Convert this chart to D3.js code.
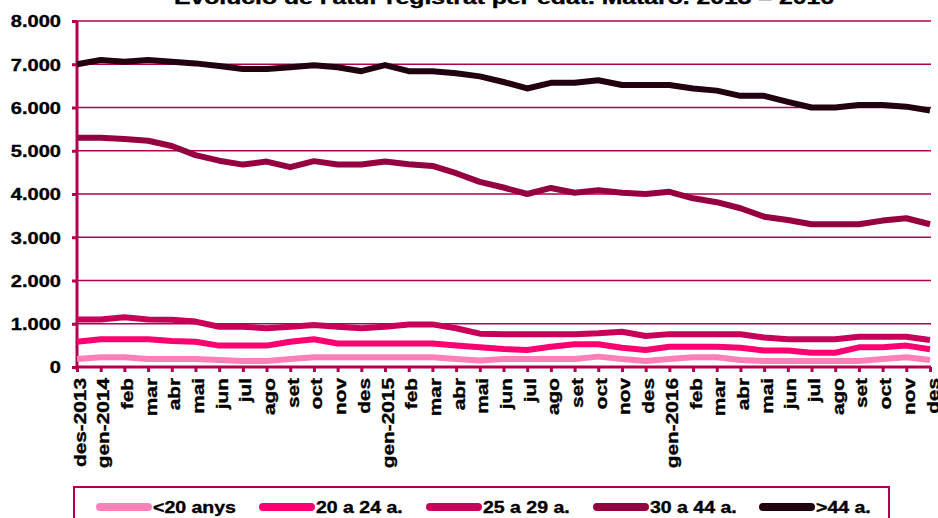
<!DOCTYPE html>
<html><head><meta charset="utf-8">
<script src="https://cdn.jsdelivr.net/npm/d3@7"></script>
<style>body{margin:0;background:#fff}svg{display:block}text{font-family:"Liberation Sans",Arial,sans-serif;font-weight:bold;fill:#000;stroke:#000;stroke-width:0.35px}</style>
</head><body><svg id="c" width="938" height="518"></svg>
<script>
const title = "Evolució de l'atur registrat  per  edat. Mataró. 2013 – 2016";
const months = ["des-2013","gen-2014","feb","mar","abr","mai","jun","jul","ago","set","oct","nov","des","gen-2015","feb","mar","abr","mai","jun","jul","ago","set","oct","nov","des","gen-2016","feb","mar","abr","mai","jun","jul","ago","set","oct","nov","des"];
const seriesNames = ["<20 anys","20 a 24 a.","25 a 29 a.","30 a 44 a.",">44 a."];
const seriesColors = ["#ff80b8","#ff0072","#c8005a","#950040","#22000f"];
const under20 = [185,225,225,185,185,185,160,140,140,185,225,225,225,225,225,225,185,150,185,185,185,185,240,185,140,185,225,225,160,140,140,140,140,140,185,225,160];
const age20_24 = [585,640,640,640,600,585,495,495,495,585,640,545,545,545,545,545,495,455,415,395,470,525,525,445,395,470,470,470,445,380,380,330,330,455,455,495,410];
const age25_29 = [1100,1100,1150,1100,1090,1050,930,930,895,930,970,930,895,930,985,985,895,770,760,760,760,760,780,815,715,760,760,760,755,680,640,640,640,700,700,700,625];
const age30_44 = [5300,5300,5270,5230,5110,4900,4770,4680,4750,4620,4760,4680,4680,4750,4690,4650,4480,4280,4150,4000,4140,4030,4090,4030,4000,4050,3900,3810,3670,3475,3400,3300,3300,3300,3385,3440,3300];
const over44 = [7000,7100,7060,7100,7060,7020,6960,6890,6890,6930,6975,6930,6840,6980,6840,6840,6790,6720,6590,6440,6570,6570,6630,6520,6520,6520,6440,6390,6270,6270,6130,6000,6000,6060,6060,6020,5930];
const yTicks = [0,1000,2000,3000,4000,5000,6000,7000,8000];

const series = [under20, age20_24, age25_29, age30_44, over44];
const svg = d3.select("#c");
const axisColor = "#b0004f";
const L = 77, R = 930, T = 21, B = 367;
const x = d3.scalePoint().domain(d3.range(months.length)).range([L, R]);
const y = d3.scaleLinear().domain([0, 8000]).range([B, T]);
const fmt = v => d3.format(",")(v).replace(/,/g, ".");

// title
svg.append("text").attr("x", 504).attr("y", 4).attr("text-anchor", "middle")
  .attr("font-size", 18).attr("textLength", 660).attr("lengthAdjust", "spacingAndGlyphs").text(title);

// gridlines
svg.append("g").selectAll("line").data(yTicks.filter(d => d > 0)).join("line")
  .attr("x1", L).attr("x2", R + 1).attr("y1", d => y(d)).attr("y2", d => y(d))
  .attr("stroke", axisColor).attr("stroke-width", 1.6);

// y axis
const ya = svg.append("g").attr("transform", `translate(${L},0)`)
  .call(d3.axisLeft(y).tickValues(yTicks).tickFormat(fmt).tickSize(5).tickPadding(0));
ya.select(".domain").attr("stroke", axisColor).attr("stroke-width", 3).attr("d", `M0,${T}V${B + 3}`);
ya.selectAll(".tick line").attr("stroke", axisColor).attr("stroke-width", 3);
ya.selectAll(".tick text").attr("font-size", 17).attr("fill", "#000").attr("x", 0).attr("dy", "0.35em")
  .attr("text-anchor", "end").attr("transform", "translate(-16,0) scale(1.18,1)");

// x axis
const xa = svg.append("g").attr("transform", `translate(0,${B})`)
  .call(d3.axisBottom(x).tickFormat(i => months[i]).tickSize(5).tickPadding(0));
xa.select(".domain").attr("stroke", axisColor).attr("stroke-width", 3).attr("d", `M${L - 1},0H${R + 1}`);
xa.selectAll(".tick line").attr("stroke", axisColor).attr("stroke-width", 3);
xa.selectAll(".tick text").attr("font-size", 16).attr("fill", "#000")
  .attr("x", 0).attr("y", 0).attr("dy", 0).attr("text-anchor", "end")
  .attr("transform", "translate(8,11) rotate(-90) scale(1.3,1)");

// lines
const line = d3.line().x((d, i) => x(i)).y(d => y(d));
svg.append("g").selectAll("path").data(series).join("path")
  .attr("d", line).attr("fill", "none").attr("stroke", (d, i) => seriesColors[i])
  .attr("stroke-width", 6).attr("stroke-linejoin", "round").attr("stroke-linecap", "butt");

// legend
svg.append("rect").attr("x", 74).attr("y", 487).attr("width", 815).attr("height", 60)
  .attr("fill", "none").attr("stroke", axisColor).attr("stroke-width", 2);
const legX = [97, 260, 427, 594, 760];
const lg = svg.append("g").selectAll("g").data(seriesNames).join("g")
  .attr("transform", (d, i) => `translate(${legX[i]},507)`);
lg.append("line").attr("x1", 3).attr("x2", 51).attr("y1", 0).attr("y2", 0)
  .attr("stroke", (d, i) => seriesColors[i]).attr("stroke-width", 8).attr("stroke-linecap", "round");
lg.append("text").attr("x", 0).attr("y", 0).attr("dy", "0.36em").attr("font-size", 16)
  .attr("transform", "translate(56,0) scale(1.22,1)").text(d => d);
</script></body></html>
